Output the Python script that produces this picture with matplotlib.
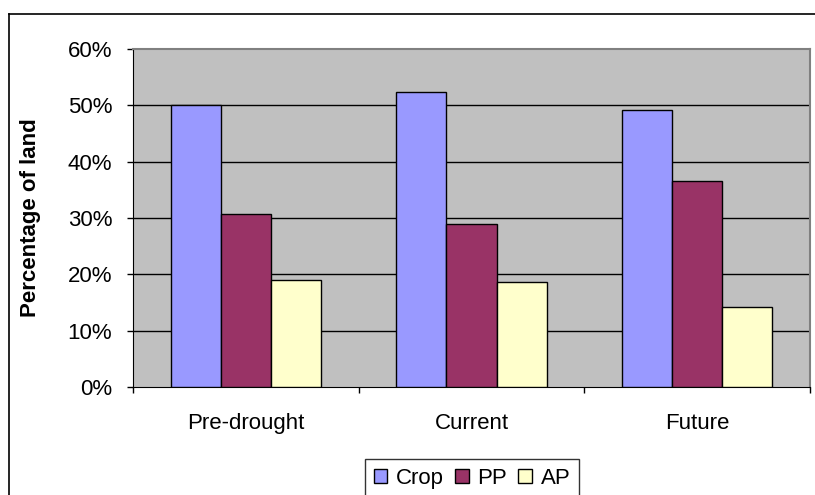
import numpy as np
import matplotlib.pyplot as plt
from matplotlib.patches import Patch
from matplotlib.lines import Line2D
from matplotlib.ticker import PercentFormatter

plt.rcParams['font.family'] = ['Liberation Sans', 'DejaVu Sans']

# land use shares (%)
periods = ["Pre-drought", "Current", "Future"]
series = ["Crop", "PP", "AP"]
crop = [50.0, 52.3, 49.1]
pp = [30.7, 29.0, 36.5]
ap = [19.0, 18.6, 14.2]
colors = ["#9999FF", "#993366", "#FFFFCC"]

fs = 16

fig = plt.figure(figsize=(8.15, 4.95), dpi=100)
ax = fig.add_axes([133/815, 1 - 387/495, 677/815, 338/495])
ax.set_facecolor("#C0C0C0")

x = np.arange(len(periods))
w = 1 / 4.5  # gap width 150%
for i, (vals, c) in enumerate(zip([crop, pp, ap], colors)):
    ax.bar(x + (i - 1) * w, vals, w, color=c, edgecolor="black",
           linewidth=1, zorder=3, label=series[i])

ax.set_xlim(-0.5, 2.5)
ax.set_ylim(0, 60)
ax.set_yticks(np.arange(0, 61, 10))
ax.yaxis.set_major_formatter(PercentFormatter(decimals=0))
for v in range(10, 60, 10):
    ax.axhline(v, color="black", lw=1, zorder=1)

ax.set_xticks(x)
ax.set_xticklabels(periods)
ax.set_xticks([-0.5, 0.5, 1.5, 2.5], minor=True)
ax.tick_params(axis="x", which="major", length=0, pad=19, labelsize=fs)
ax.tick_params(axis="x", which="minor", length=4.5, direction="out", width=1)
ax.tick_params(axis="y", length=4.5, direction="out", width=1, pad=10.5,
               labelsize=fs)

ax.spines["left"].set_color("black")
ax.spines["bottom"].set_color("black")
for s in ["top", "right"]:
    ax.spines[s].set_color("#808080")
    ax.spines[s].set_linewidth(1.5)

ax.set_ylabel("Percentage of land", fontsize=fs, fontweight="bold")
ax.yaxis.set_label_coords(-0.136, 0.5)

# chart border, cut by the canvas edge
fig.add_artist(Line2D([9/815, 9/815], [0, 1 - 14/495], color="black", lw=1.2))
fig.add_artist(Line2D([9/815, 1], [1 - 14/495, 1 - 14/495], color="black", lw=1.2))

handles = [Patch(facecolor=c, edgecolor="black", lw=1) for c in colors]
leg = fig.legend(handles, series, loc="upper left",
                 bbox_to_anchor=(365/815, 1 - 459/495), ncol=3,
                 fontsize=fs, frameon=True, fancybox=False,
                 handlelength=0.6, handleheight=0.6, handletextpad=0.4,
                 columnspacing=0.5, borderpad=0.4, borderaxespad=0)
leg.get_frame().set_edgecolor("black")
leg.get_frame().set_linewidth(1)

fig.savefig("out.png", dpi=100)
